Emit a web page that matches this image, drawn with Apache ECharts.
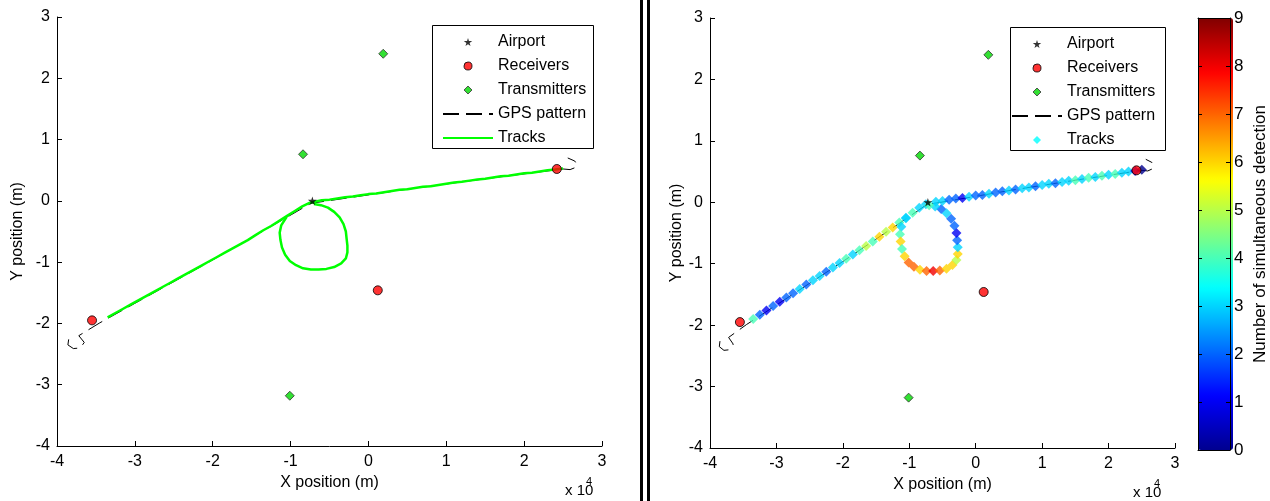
<!DOCTYPE html>
<html><head><meta charset="utf-8">
<script src="https://cdn.jsdelivr.net/npm/echarts@6/dist/echarts.min.js"></script>
<style>html,body{margin:0;padding:0;background:#fff}#c{width:1270px;height:501px}</style>
</head><body><div id="c"></div>
<script>
// positions in units of 10^4 m
const airportX = [-0.72];
const airportY = [0.0];
const receiversX = [-3.55, 0.12, 2.42];
const receiversY = [-1.95, -1.46, 0.52];
const transmittersX = [0.19, -0.84, -1.01];
const transmittersY = [2.40, 0.76, -3.18];

const gpsX = [-3.85,-3.86,-3.79,-3.70,-3.65,-3.72,-3.45,-3.35,-2.05,-1.05,-0.74,0.50,1.50,2.50,2.59,2.65,2.68,2.65,2.56];
const gpsY = [-2.26,-2.35,-2.41,-2.40,-2.31,-2.20,-1.99,-1.92,-1.00,-0.27,-0.04,0.19,0.36,0.52,0.51,0.54,0.59,0.65,0.70];

const westX = [-3.35,-3.25,-3.15,-3.05,-2.95,-2.85,-2.75,-2.65,-2.55,-2.45,-2.35,-2.25,-2.15,-2.05,-1.95,-1.85,-1.75,-1.65,-1.55,-1.45,-1.35,-1.25,-1.15,-1.05,-0.95,-0.85,-0.75];
const westY = [-1.90,-1.83,-1.76,-1.69,-1.62,-1.55,-1.48,-1.41,-1.34,-1.27,-1.20,-1.13,-1.06,-0.99,-0.92,-0.85,-0.78,-0.71,-0.64,-0.56,-0.48,-0.41,-0.33,-0.25,-0.17,-0.09,-0.03];
const westN = [4,2,1,2,1,2,2,3,2,3,3,2,3,3,4,3,4,5,4,6,5,6,4,3,4,3,3];

const loopX = [-1.05,-1.12,-1.14,-1.13,-1.11,-1.07,-1.01,-0.93,-0.84,-0.74,-0.64,-0.54,-0.44,-0.35,-0.29,-0.27,-0.27,-0.28,-0.29,-0.32,-0.37,-0.44,-0.52,-0.61,-0.70];
const loopY = [-0.26,-0.40,-0.52,-0.64,-0.76,-0.88,-0.98,-1.05,-1.10,-1.12,-1.12,-1.11,-1.08,-1.02,-0.94,-0.84,-0.73,-0.62,-0.50,-0.38,-0.27,-0.18,-0.11,-0.07,-0.05];
const loopN = [3,3,4,6,4,6,7,7,6,7,8,7,6,6,5,6,3,2,1,2,2,3,2,3,4];

const eastX = [-0.60,-0.50,-0.40,-0.30,-0.20,-0.10,0.00,0.10,0.20,0.30,0.40,0.50,0.60,0.70,0.80,0.90,1.00,1.10,1.20,1.30,1.40,1.50,1.60,1.70,1.80,1.90,2.00,2.10,2.20,2.30,2.40,2.50];
const eastY = [0.01,0.02,0.04,0.06,0.07,0.09,0.11,0.12,0.14,0.16,0.18,0.19,0.21,0.23,0.24,0.26,0.28,0.30,0.31,0.33,0.35,0.36,0.38,0.40,0.41,0.43,0.45,0.46,0.48,0.50,0.51,0.53];
const eastN = [3,3,2,2,1,3,2,2,3,2,2,3,2,3,3,2,3,3,2,3,3,4,3,4,3,4,3,4,3,3,1,0];

const legendNames = ['Airport','Receivers','Transmitters','GPS pattern','Tracks'];
const colorbarMin = 0, colorbarMax = 9;
const jet = ['#00008F','#0000FF','#0080FF','#00FFFF','#80FF80','#FFFF00','#FF8000','#FF0000','#800000'];

const FONT = "'Liberation Sans', Arial, sans-serif";
const STAR = 'path://M50,0 L61,35 L98,35 L68,57 L79,91 L50,70 L21,91 L32,57 L2,35 L39,35 Z';
const DIAMOND = 'path://M50,0 L100,50 L50,100 L0,50 Z';
const DOT = 'path://M50,0 A50,50 0 1 1 49.9,0 Z';
const zip = (xs, ys) => xs.map((x, i) => [x, ys[i]]);
const zip3 = (xs, ys, ns) => xs.map((x, i) => [x, ys[i], ns[i]]);

function axes(g, nameGapX, nameGapY) {
  const lbl = {color:'#000', fontSize:16, fontFamily:FONT};
  return {
    x: {gridIndex:g, type:'value', min:-4, max:3, interval:1,
      axisLine:{onZero:false, lineStyle:{color:'#000', width:1}},
      axisTick:{inside:true, length:5, lineStyle:{color:'#000'}},
      axisLabel:Object.assign({margin:8}, lbl), splitLine:{show:false},
      name:'X position (m)', nameLocation:'middle', nameGap:nameGapX, nameTextStyle:lbl},
    y: {gridIndex:g, type:'value', min:-4, max:3, interval:1,
      axisLine:{onZero:false, lineStyle:{color:'#000', width:1}},
      axisTick:{inside:true, length:5, lineStyle:{color:'#000'}},
      axisLabel:Object.assign({margin:7}, lbl), splitLine:{show:false},
      name:'Y position (m)', nameLocation:'middle', nameGap:nameGapY, nameTextStyle:lbl}
  };
}
const a0 = axes(0, 27, 31), a1 = axes(1, 27, 24);

function markerSeries(prefix, xi) {
  return [
    {name:prefix+'Airport', type:'scatter', xAxisIndex:xi, yAxisIndex:xi, symbol:STAR, symbolSize:9, symbolKeepAspect:true,
      itemStyle:{color:'#000'}, data:zip(airportX, airportY), z:5},
    {name:prefix+'Receivers', type:'scatter', xAxisIndex:xi, yAxisIndex:xi, symbol:'circle', symbolSize:9,
      itemStyle:{color:'#FF0000', borderColor:'#000', borderWidth:1}, data:zip(receiversX, receiversY), z:5},
    {name:prefix+'Transmitters', type:'scatter', xAxisIndex:xi, yAxisIndex:xi, symbol:'diamond', symbolSize:9,
      itemStyle:{color:'#00D800', borderColor:'#333', borderWidth:1}, data:zip(transmittersX, transmittersY), z:5}
  ];
}
function gpsSeries(prefix, xi) {
  return {name:prefix+'GPS pattern', type:'line', xAxisIndex:xi, yAxisIndex:xi, symbol:'none',
    itemStyle:{color:'#000'},
    lineStyle:{color:'#000', width:1, type:[16,7]}, data:zip(gpsX, gpsY), z:2};
}

const series = [
  gpsSeries('', 0),
  {name:'Tracks', type:'line', xAxisIndex:0, yAxisIndex:0, symbol:'none', itemStyle:{color:'#00FF00'},
    lineStyle:{color:'#00FF00', width:2.5}, data:zip(westX.concat(eastX), westY.concat(eastY)), z:3},
  {name:'Tracks', type:'line', xAxisIndex:0, yAxisIndex:0, symbol:'none', itemStyle:{color:'#00FF00'},
    lineStyle:{color:'#00FF00', width:2.5}, data:zip(loopX, loopY), z:3},
  ...markerSeries('', 0),
  gpsSeries('R:', 1),
  {name:'R:Tracks', type:'scatter', xAxisIndex:1, yAxisIndex:1, symbol:'diamond', symbolSize:10,
    itemStyle:{color:'#00FFFF'},
    data:zip3(westX, westY, westN).concat(zip3(loopX, loopY, loopN), zip3(eastX, eastY, eastN)), z:3},
  ...markerSeries('R:', 1)
];
const tracksIdx = series.findIndex(s => s.name === 'R:Tracks');

function legendData(prefix) {
  return legendNames.map(n => {
    const name = prefix + n;
    if (n === 'Airport') return {name, icon:STAR, itemStyle:{color:'#000'}};
    if (n === 'Receivers') return {name, icon:DOT, itemStyle:{color:'#FF0000', borderColor:'#000', borderWidth:1}};
    if (n === 'Transmitters') return {name, icon:DIAMOND, itemStyle:{color:'#00D800', borderColor:'#333', borderWidth:1}};
    if (n === 'Tracks' && prefix) return {name, icon:DIAMOND, itemStyle:{color:'#00FFFF', borderWidth:0}};
    return {name, itemStyle:{opacity:0}};
  });
}

const legendText = {color:'#000', fontSize:16, fontFamily:FONT};
const chart = echarts.init(document.getElementById('c'));
chart.setOption({
  animation:false,
  backgroundColor:'#fff',
  grid:[
    {left:57, top:17, width:545, height:429},
    {left:710, top:18, width:465, height:430},
    {left:1198, top:18, width:35, height:432}
  ],
  xAxis:[a0.x, a1.x,
    {gridIndex:2, type:'value', min:0, max:1, position:'bottom', z:10, axisLine:{onZero:false, lineStyle:{color:'#000'}}, axisTick:{show:false}, axisLabel:{show:false}, splitLine:{show:false}},
    {gridIndex:2, type:'value', min:0, max:1, position:'top', z:10, axisLine:{onZero:false, lineStyle:{color:'#000'}}, axisTick:{show:false}, axisLabel:{show:false}, splitLine:{show:false}}
  ],
  yAxis:[a0.y, a1.y,
    {gridIndex:2, type:'value', min:colorbarMin, max:colorbarMax, interval:1, position:'right', z:10,
      axisLine:{onZero:false, lineStyle:{color:'#000'}}, axisTick:{inside:true, length:4, lineStyle:{color:'#000'}},
      axisLabel:{color:'#000', fontSize:17, fontFamily:FONT, margin:4}, splitLine:{show:false},
      name:'Number of simultaneous detection', nameLocation:'middle', nameGap:22, nameRotate:90,
      nameTextStyle:{color:'#000', fontSize:17, fontFamily:FONT}},
    {gridIndex:2, type:'value', min:colorbarMin, max:colorbarMax, interval:1, position:'left', z:10,
      axisLine:{onZero:false, lineStyle:{color:'#000'}}, axisTick:{inside:true, length:4, lineStyle:{color:'#000'}},
      axisLabel:{show:false}, splitLine:{show:false}}
  ],
  visualMap:{type:'continuous', min:colorbarMin, max:colorbarMax, dimension:2, seriesIndex:tracksIdx,
    inRange:{color:jet}, left:1198, top:18, itemWidth:35, itemHeight:432, padding:0,
    calculable:false, hoverLink:false, show:true, z:4},
  legend:[
    {data:legendData(''), orient:'vertical', left:442, top:34, itemWidth:50, itemHeight:8, itemGap:8,
      padding:0, selectedMode:false, symbolKeepAspect:true, textStyle:legendText, z:6},
    {data:legendData('R:'), formatter:n => n.replace('R:',''), orient:'vertical', left:1011, top:36,
      itemWidth:50, itemHeight:8, itemGap:8, padding:0, selectedMode:false, symbolKeepAspect:true, textStyle:legendText, z:6}
  ],
  graphic:[
    {type:'rect', shape:{x:432.5, y:25.5, width:161, height:123}, style:{fill:'#fff', stroke:'#000', lineWidth:1}, z:3},
    {type:'rect', shape:{x:1010.5, y:27.5, width:155, height:123}, style:{fill:'#fff', stroke:'#000', lineWidth:1}, z:3},
    {type:'rect', shape:{x:640, y:0, width:3, height:501}, style:{fill:'#000'}},
    {type:'rect', shape:{x:647, y:0, width:3, height:501}, style:{fill:'#000'}},
    {type:'text', x:565, y:483, style:{text:'x 10', fill:'#000', font:'15px '+FONT}},
    {type:'text', x:586, y:476, style:{text:'4', fill:'#000', font:'11px '+FONT}},
    {type:'text', x:1133, y:485, style:{text:'x 10', fill:'#000', font:'15px '+FONT}},
    {type:'text', x:1154, y:478, style:{text:'4', fill:'#000', font:'11px '+FONT}}
  ],
  series:series
});
</script></body></html>
